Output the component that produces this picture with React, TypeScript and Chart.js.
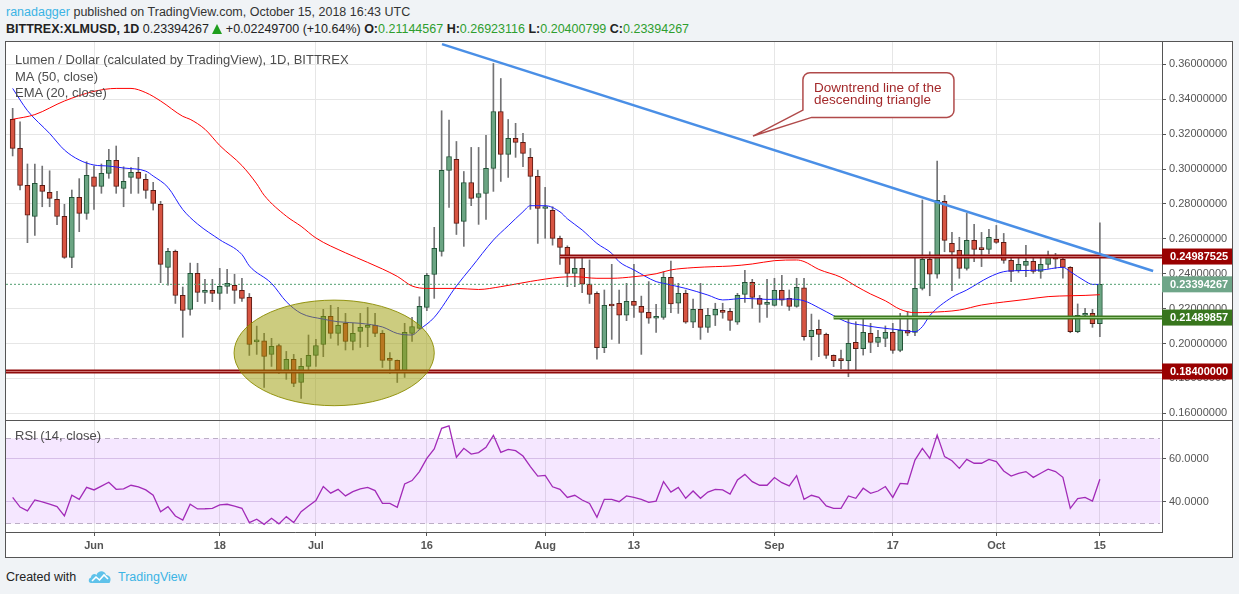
import { useEffect, useRef } from "react"
import { Chart, registerables } from "chart.js"

Chart.register(...registerables)
Chart.defaults.font.family = '"Liberation Sans", Arial, sans-serif'

// one candle per day, index 0 = 2018-05-21, last = 2018-10-15
const opens = [
  0.3285, 0.3118, 0.2906, 0.2729, 0.2906, 0.2866, 0.2826, 0.2729, 0.2494, 0.2838,
  0.2746, 0.2956, 0.2901, 0.2975, 0.3050, 0.2889, 0.2952, 0.2981, 0.2941, 0.2878,
  0.2798, 0.2437, 0.2528, 0.2276, 0.2196, 0.2402, 0.2293, 0.2305, 0.2288, 0.2328,
  0.2333, 0.2305, 0.2265, 0.2010, 0.2016, 0.1938, 0.1989, 0.1835, 0.1909, 0.1777,
  0.1869, 0.1932, 0.1995, 0.2156, 0.2058, 0.2116, 0.2012, 0.2070, 0.2093, 0.2104,
  0.2058, 0.1909, 0.1904, 0.1840, 0.2058, 0.2087, 0.2207, 0.2396, 0.2528, 0.2992,
  0.3055, 0.2700, 0.2923, 0.2837, 0.2860, 0.3004, 0.3330, 0.3084, 0.3176, 0.3153,
  0.3067, 0.2958, 0.2774, 0.2763, 0.2603, 0.2551, 0.2402, 0.2431, 0.2341, 0.2288,
  0.1977, 0.2219, 0.2231, 0.2162, 0.2242, 0.2213, 0.2179, 0.2145, 0.2150, 0.2380,
  0.2231, 0.2288, 0.2122, 0.2196, 0.2093, 0.2162, 0.2190, 0.2185, 0.2122, 0.2282,
  0.2351, 0.2259, 0.2225, 0.2219, 0.2305, 0.2259, 0.2213, 0.2320, 0.2039, 0.2081,
  0.2053, 0.1932, 0.1906, 0.1902, 0.2007, 0.1971, 0.2059, 0.2007, 0.2030, 0.2064,
  0.1961, 0.2076, 0.2064, 0.2316, 0.2483, 0.2397, 0.2815, 0.2574, 0.2534, 0.2431,
  0.2591, 0.2542, 0.2540, 0.2597, 0.2580, 0.2477, 0.2418, 0.2448, 0.2471, 0.2414,
  0.2454, 0.2500, 0.2483, 0.2437, 0.2068, 0.2162, 0.2173, 0.21144567,
]
const highs = [
  0.3348, 0.3271, 0.3029, 0.3029, 0.3017, 0.2990, 0.2872, 0.2798, 0.2880, 0.2945,
  0.3042, 0.3017, 0.3029, 0.3113, 0.3132, 0.3013, 0.3008, 0.3067, 0.2971, 0.2924,
  0.2815, 0.2545, 0.2536, 0.2324, 0.2461, 0.2460, 0.2368, 0.2368, 0.2431, 0.2425,
  0.2397, 0.2374, 0.2287, 0.2100, 0.2058, 0.2030, 0.1997, 0.1955, 0.1938, 0.1915,
  0.2049, 0.2024, 0.2196, 0.2219, 0.2207, 0.2173, 0.2116, 0.2173, 0.2207, 0.2173,
  0.2075, 0.1949, 0.1906, 0.2116, 0.2150, 0.2268, 0.2402, 0.2666, 0.3334, 0.3281,
  0.3158, 0.2986, 0.3124, 0.3124, 0.3193, 0.3605, 0.3519, 0.3284, 0.3262, 0.3204,
  0.3118, 0.2994, 0.2895, 0.2784, 0.2616, 0.2560, 0.2488, 0.2488, 0.2479, 0.2297,
  0.2307, 0.2454, 0.2307, 0.2345, 0.2454, 0.2272, 0.2355, 0.2225, 0.2412, 0.2473,
  0.2345, 0.2307, 0.2255, 0.2345, 0.2202, 0.2231, 0.2231, 0.2202, 0.2288, 0.2420,
  0.2368, 0.2276, 0.2368, 0.2374, 0.2391, 0.2307, 0.2374, 0.2374, 0.2169, 0.2135,
  0.2060, 0.1935, 0.1963, 0.2144, 0.2125, 0.2139, 0.2116, 0.2076, 0.2101, 0.2116,
  0.2173, 0.2183, 0.2494, 0.2823, 0.2526, 0.3046, 0.2849, 0.2637, 0.2609, 0.2746,
  0.2683, 0.2637, 0.2654, 0.2677, 0.2631, 0.2505, 0.2505, 0.2563, 0.2505, 0.2505,
  0.2530, 0.2517, 0.2490, 0.2441, 0.2227, 0.2202, 0.2196, 0.26923116,
]
const lows = [
  0.3075, 0.2880, 0.2578, 0.2620, 0.2784, 0.2784, 0.2681, 0.2488, 0.2435, 0.2641,
  0.2712, 0.2769, 0.2861, 0.2947, 0.2861, 0.2784, 0.2861, 0.2861, 0.2832, 0.2765,
  0.2349, 0.2335, 0.2230, 0.2036, 0.2162, 0.2240, 0.2230, 0.2240, 0.2196, 0.2288,
  0.2230, 0.2242, 0.1932, 0.1938, 0.1749, 0.1869, 0.1829, 0.1795, 0.1753, 0.1686,
  0.1840, 0.1869, 0.1925, 0.2030, 0.1991, 0.1963, 0.1963, 0.1978, 0.1982, 0.2039,
  0.1863, 0.1829, 0.1777, 0.1806, 0.2012, 0.2081, 0.2188, 0.2259, 0.2501, 0.2780,
  0.2625, 0.2557, 0.2790, 0.2683, 0.2711, 0.2872, 0.2929, 0.2952, 0.3067, 0.3013,
  0.2769, 0.2574, 0.2603, 0.2564, 0.2454, 0.2326, 0.2326, 0.2292, 0.2230, 0.1910,
  0.1948, 0.2024, 0.2001, 0.2131, 0.2150, 0.1938, 0.2116, 0.2064, 0.2139, 0.2177,
  0.2173, 0.2116, 0.2091, 0.2024, 0.2064, 0.2103, 0.2145, 0.2076, 0.2110, 0.2236,
  0.2202, 0.2122, 0.2150, 0.2215, 0.2219, 0.2190, 0.2208, 0.2020, 0.1906, 0.1925,
  0.1915, 0.1868, 0.1854, 0.1810, 0.1848, 0.1934, 0.1948, 0.1982, 0.1982, 0.1944,
  0.1953, 0.2045, 0.2045, 0.2307, 0.2274, 0.2374, 0.2526, 0.2303, 0.2374, 0.2421,
  0.2469, 0.2441, 0.2513, 0.2574, 0.2460, 0.2355, 0.2408, 0.2383, 0.2402, 0.2374,
  0.2431, 0.2431, 0.2374, 0.2062, 0.2062, 0.2144, 0.2093, 0.20400799,
]
const closes = [
  0.3118, 0.2906, 0.2735, 0.2918, 0.2872, 0.2832, 0.2729, 0.2494, 0.2838, 0.2746,
  0.2964, 0.2901, 0.2975, 0.3050, 0.2901, 0.2929, 0.2981, 0.2947, 0.2878, 0.2803,
  0.2454, 0.2528, 0.2276, 0.2190, 0.2402, 0.2293, 0.2305, 0.2288, 0.2328, 0.2345,
  0.2305, 0.2259, 0.1995, 0.2016, 0.1926, 0.1984, 0.1835, 0.1909, 0.1772, 0.1869,
  0.1932, 0.1989, 0.2156, 0.2058, 0.2104, 0.2012, 0.2058, 0.2093, 0.2104, 0.2058,
  0.1904, 0.1904, 0.1846, 0.2064, 0.2098, 0.2213, 0.2391, 0.2545, 0.2992, 0.3072,
  0.2689, 0.2923, 0.2832, 0.2860, 0.3004, 0.3330, 0.3084, 0.3176, 0.3153, 0.3090,
  0.2958, 0.2774, 0.2780, 0.2603, 0.2551, 0.2402, 0.2431, 0.2341, 0.2282, 0.1977,
  0.2219, 0.2215, 0.2162, 0.2242, 0.2219, 0.2179, 0.2145, 0.2150, 0.2380, 0.2227,
  0.2288, 0.2122, 0.2196, 0.2093, 0.2162, 0.2196, 0.2179, 0.2133, 0.2276, 0.2351,
  0.2265, 0.2225, 0.2231, 0.2305, 0.2248, 0.2213, 0.2322, 0.2039, 0.2076, 0.2053,
  0.1932, 0.1902, 0.1902, 0.2001, 0.1971, 0.2064, 0.2007, 0.2036, 0.2064, 0.1961,
  0.2076, 0.2059, 0.2316, 0.2483, 0.2397, 0.2821, 0.2591, 0.2523, 0.2431, 0.2591,
  0.2540, 0.2538, 0.2609, 0.2580, 0.2477, 0.2414, 0.2454, 0.2471, 0.2414, 0.2454,
  0.2500, 0.2483, 0.2437, 0.2068, 0.2162, 0.2167, 0.2114, 0.23394267,
]

// MA (50) and EMA (20) at these day indices
const maDays = [0, 3, 7, 11, 14, 16, 18, 20, 23, 24, 26, 28, 31, 33, 34, 37, 39, 41, 45, 48, 52, 54, 56, 60, 63, 66, 70, 74, 76, 79, 81, 84, 87, 89, 92, 95, 97, 100, 103, 106, 107, 109, 112, 114, 116, 118, 120, 122, 124, 128, 131, 134, 137, 140, 143, 145, 147]
const maValues = [0.3285, 0.3312, 0.3390, 0.3445, 0.3462, 0.3462, 0.3438, 0.3390, 0.3302, 0.3285, 0.3228, 0.3135, 0.3020, 0.2915, 0.2850, 0.2730, 0.2672, 0.2605, 0.2520, 0.2465, 0.2385, 0.2330, 0.2316, 0.2316, 0.2310, 0.2326, 0.2356, 0.2380, 0.2383, 0.2374, 0.2374, 0.2383, 0.2400, 0.2422, 0.2435, 0.2441, 0.2444, 0.2456, 0.2475, 0.2479, 0.2470, 0.2425, 0.2380, 0.2330, 0.2284, 0.2245, 0.2196, 0.2177, 0.2179, 0.2192, 0.2221, 0.2238, 0.2253, 0.2269, 0.2274, 0.2276, 0.2280]
const emaDays = [0, 2, 5, 7, 9, 11, 13, 15, 18, 19, 21, 23, 25, 28, 31, 32, 35, 37, 39, 42, 44, 47, 50, 52, 54, 55, 57, 60, 62, 65, 67, 69, 70, 72, 74, 75, 77, 79, 81, 82, 84, 87, 88, 91, 94, 96, 99, 102, 105, 107, 109, 111, 113, 115, 117, 120, 122, 123, 124, 127, 129, 132, 134, 136, 139, 142, 143, 145, 146, 147]
const emaValues = [0.3462, 0.3335, 0.3204, 0.3109, 0.3052, 0.3023, 0.3017, 0.3006, 0.2988, 0.2960, 0.2895, 0.2768, 0.2685, 0.2595, 0.2510, 0.2445, 0.2345, 0.2240, 0.2173, 0.2140, 0.2125, 0.2116, 0.2095, 0.2058, 0.2049, 0.2080, 0.2150, 0.2330, 0.2435, 0.2593, 0.2675, 0.2755, 0.2790, 0.2790, 0.2755, 0.2715, 0.2651, 0.2574, 0.2517, 0.2469, 0.2422, 0.2355, 0.2345, 0.2316, 0.2278, 0.2250, 0.2259, 0.2253, 0.2255, 0.2245, 0.2205, 0.2160, 0.2120, 0.2105, 0.2092, 0.2078, 0.2068, 0.2097, 0.2160, 0.2265, 0.2307, 0.2380, 0.2412, 0.2418, 0.2421, 0.2437, 0.2412, 0.2358, 0.2339, 0.2339]

// RSI (14) per candle
const rsiValues = [
  42.0, 37.5, 35.7, 40.8, 39.9, 38.9, 37.7, 33.3, 43.0, 41.1,
  46.7, 45.5, 47.3, 49.1, 45.8, 46.0, 47.7, 46.9, 45.5, 43.0,
  35.3, 37.7, 33.3, 31.4, 38.8, 36.6, 36.7, 36.9, 38.5, 38.8,
  37.9, 36.9, 30.2, 31.8, 29.4, 32.2, 29.6, 33.0, 30.2, 35.3,
  38.0, 40.5, 47.1, 44.0, 45.8, 42.7, 44.7, 46.0, 46.7, 45.2,
  39.2, 39.2, 37.4, 48.3, 49.9, 54.1, 60.3, 64.7, 74.4, 75.5,
  60.8, 65.0, 62.3, 63.0, 65.5, 71.1, 63.1, 64.5, 63.9, 61.4,
  56.4, 52.0, 52.3, 47.0, 45.8, 42.0, 43.0, 40.8, 39.2, 32.7,
  41.1, 41.1, 40.0, 42.7, 42.0, 41.1, 39.7, 40.3, 49.4, 44.5,
  46.7, 41.6, 45.0, 41.6, 44.5, 45.8, 45.5, 43.6, 50.2, 52.8,
  49.4, 47.7, 47.7, 51.3, 48.9, 47.4, 52.2, 41.1, 43.0, 42.0,
  38.0, 36.9, 36.9, 42.7, 41.6, 46.3, 43.9, 45.0, 47.1, 42.0,
  48.6, 48.3, 59.5, 65.0, 60.3, 71.2, 61.1, 59.2, 55.6, 59.8,
  58.0, 58.0, 59.8, 58.8, 54.4, 52.0, 53.3, 54.1, 51.4, 53.3,
  55.2, 54.1, 51.4, 36.9, 41.4, 42.0, 40.3, 50.5,
]

const tickDays = [11, 28, 41, 56, 72, 84, 103, 119, 133, 147]
const tickLabels = ["Jun", "18", "Jul", "16", "Aug", "13", "Sep", "17", "Oct", "15"]
const priceTicks = [0.16, 0.18, 0.2, 0.22, 0.24, 0.26, 0.28, 0.3, 0.32, 0.34, 0.36]
const rsiTicks = [40, 60]
const RSI_UPPER = 70
const RSI_LOWER = 30

// drawn levels and trend line
const resistance = 0.24987525
const support = 0.21489857
const floor = 0.184
const lastPrice = 0.23394267
const trendDays = [58.05, 154.2]
const trendValues = [0.3716, 0.2416]

const X_MIN = -0.9
const X_MAX = 155.4
const UI_FONT = '"Liberation Sans", Arial, sans-serif'

const UP = "#6ba583"
const UP_BORDER = "#225437"
const DOWN = "#d75442"
const DOWN_BORDER = "#5b1a13"

function dayAxis(showLabels: boolean) {
  return {
    type: "linear",
    min: X_MIN,
    max: X_MAX,
    offset: false,
    afterBuildTicks: (axis: any) => {
      axis.ticks = tickDays.map((v) => ({ value: v }))
    },
    afterFit: (axis: any) => {
      axis.height = showLabels ? 25 : 0
      axis.paddingLeft = 0
      axis.paddingRight = 0
    },
    grid: { color: "#e6e6e6", offset: false, drawTicks: showLabels, tickLength: 4, tickColor: "#555" },
    border: { display: showLabels, color: "#555" },
    ticks: {
      display: showLabels,
      autoSkip: false,
      maxRotation: 0,
      padding: 3,
      color: "#555",
      font: { size: 11, weight: "bold" },
      callback: (v: number) => tickLabels[tickDays.indexOf(v)] ?? "",
    },
  }
}

function valueAxis(min: number, max: number, ticks: number[], digits: number, gridColor: string) {
  return {
    position: "right",
    min,
    max,
    afterBuildTicks: (axis: any) => {
      axis.ticks = ticks.map((v) => ({ value: v }))
    },
    afterFit: (axis: any) => {
      axis.width = 70
      axis.paddingTop = 0
      axis.paddingBottom = 0
    },
    grid: { color: gridColor, tickColor: "#555", tickLength: 4 },
    border: { color: "#555" },
    ticks: {
      padding: 3,
      color: "#555",
      font: { size: 11 },
      callback: (v: number) => Number(v).toFixed(digits),
    },
  }
}

function hline(value: number, from: number, color: string, width: number, order: number, dash: number[] = []) {
  return {
    type: "line",
    data: [
      { x: from, y: value },
      { x: X_MAX, y: value },
    ],
    borderColor: color,
    borderWidth: width,
    borderDash: dash,
    pointRadius: 0,
    order,
  }
}

const priceOverlay = {
  id: "priceOverlay",
  afterDatasetsDraw(chart: any) {
    const { ctx } = chart
    const { x, y } = chart.scales
    // highlighted base
    const cx = x.getPixelForValue(43.47)
    const cy = y.getPixelForValue(0.19465)
    const rx = (x.getPixelForValue(57.0) - x.getPixelForValue(29.93)) / 2
    const ry = (y.getPixelForValue(0.1644) - y.getPixelForValue(0.2249)) / 2
    ctx.save()
    ctx.beginPath()
    ctx.ellipse(cx, cy, rx, ry, 0, 0, Math.PI * 2)
    ctx.fillStyle = "rgba(153, 153, 0, 0.5)"
    ctx.fill()
    ctx.strokeStyle = "rgba(140, 140, 0, 0.9)"
    ctx.lineWidth = 1
    ctx.stroke()
    ctx.restore()
  },
  afterDraw(chart: any) {
    const { ctx, chartArea } = chart
    const { x, y } = chart.scales

    // callout
    const left = x.getPixelForValue(106.85)
    const right = x.getPixelForValue(127.27)
    const top = y.getPixelForValue(0.3552)
    const bottom = y.getPixelForValue(0.3296)
    const r = 7
    const tailA = y.getPixelForValue(0.3338)
    const tailB = x.getPixelForValue(108.03)
    const tipX = x.getPixelForValue(100.1)
    const tipY = y.getPixelForValue(0.3189)
    ctx.save()
    ctx.beginPath()
    ctx.moveTo(left, tailA)
    ctx.lineTo(left, top + r)
    ctx.arcTo(left, top, left + r, top, r)
    ctx.lineTo(right - r, top)
    ctx.arcTo(right, top, right, top + r, r)
    ctx.lineTo(right, bottom - r)
    ctx.arcTo(right, bottom, right - r, bottom, r)
    ctx.lineTo(tailB, bottom)
    ctx.lineTo(tipX, tipY)
    ctx.closePath()
    ctx.fillStyle = "#ffffff"
    ctx.fill()
    ctx.strokeStyle = "#b04a4a"
    ctx.lineWidth = 1.5
    ctx.stroke()
    ctx.fillStyle = "#a3292b"
    ctx.font = `13.5px ${UI_FONT}`
    ctx.textBaseline = "middle"
    ctx.fillText("Downtrend line of the", left + 11, top + 15.5)
    ctx.fillText("descending triangle", left + 11, top + 28)
    ctx.restore()

    // value boxes on the price axis
    const boxes = [
      { v: resistance, c: "#990000" },
      { v: lastPrice, c: "#6fa689" },
      { v: support, c: "#38761d" },
      { v: floor, c: "#990000" },
    ]
    ctx.save()
    ctx.font = `bold 11px ${UI_FONT}`
    ctx.textBaseline = "middle"
    for (const b of boxes) {
      const py = y.getPixelForValue(b.v)
      ctx.fillStyle = b.c
      ctx.fillRect(chartArea.right, py - 8, chart.width - chartArea.right, 16)
      ctx.fillStyle = "#ffffff"
      ctx.fillText(b.v.toFixed(8), chartArea.right + 8, py + 0.5)
    }
    ctx.restore()
  },
}

const rsiBand = {
  id: "rsiBand",
  beforeDatasetsDraw(chart: any) {
    const { ctx, chartArea } = chart
    const { y } = chart.scales
    const top = Math.round(y.getPixelForValue(RSI_UPPER)) + 0.5
    const bot = Math.round(y.getPixelForValue(RSI_LOWER)) + 0.5
    ctx.save()
    ctx.fillStyle = "rgba(153, 21, 255, 0.1)"
    ctx.fillRect(chartArea.left, top, chartArea.right - chartArea.left - 2, bot - top)
    ctx.strokeStyle = "#bcaec6"
    ctx.lineWidth = 1
    ctx.setLineDash([5, 4])
    for (const py of [top, bot]) {
      ctx.beginPath()
      ctx.moveTo(chartArea.left, py)
      ctx.lineTo(chartArea.right - 2, py)
      ctx.stroke()
    }
    ctx.restore()
  },
}

const baseOptions = {
  animation: false,
  responsive: true,
  maintainAspectRatio: false,
  events: [],
  layout: { padding: 0, autoPadding: false },
  plugins: { legend: { display: false }, tooltip: { enabled: false } },
}

function PriceChart() {
  const ref = useRef<HTMLCanvasElement>(null)
  useEffect(() => {
    if (!ref.current) return
    const up = closes.map((c, i) => c >= opens[i])
    const chart = new Chart(ref.current, {
      type: "bar",
      data: {
        datasets: [
          {
            type: "bar",
            data: opens.map((_, i) => ({ x: i, y: [lows[i], highs[i]] })),
            backgroundColor: "#737375",
            barThickness: 1,
            grouped: false,
            order: 10,
          },
          {
            type: "bar",
            data: opens.map((o, i) => ({ x: i, y: [o, closes[i]] })),
            backgroundColor: up.map((u) => (u ? UP : DOWN)),
            borderColor: up.map((u) => (u ? UP_BORDER : DOWN_BORDER)),
            borderWidth: 1,
            borderSkipped: false,
            barThickness: 5,
            minBarLength: 2,
            grouped: false,
            order: 9,
          },
          {
            type: "line",
            data: maDays.map((d, i) => ({ x: d, y: maValues[i] })),
            borderColor: "#ff0000",
            borderWidth: 1,
            pointRadius: 0,
            cubicInterpolationMode: "monotone",
            order: 8,
          },
          {
            type: "line",
            data: emaDays.map((d, i) => ({ x: d, y: emaValues[i] })),
            borderColor: "#1f1fff",
            borderWidth: 1,
            pointRadius: 0,
            cubicInterpolationMode: "monotone",
            order: 8,
          },
          hline(lastPrice, X_MIN, "#4f9d6f", 1, 7, [2, 2]),
          hline(resistance, 74, "#8f0b0b", 4, 6),
          hline(resistance, 74, "#cf7474", 1, 5),
          hline(floor, X_MIN, "#8f0b0b", 4, 6),
          hline(floor, X_MIN, "#cf7474", 1, 5),
          hline(support, 111, "#3d7a1f", 4, 6),
          hline(support, 111, "#9ccc84", 1, 5),
          {
            type: "line",
            data: trendDays.map((d, i) => ({ x: d, y: trendValues[i] })),
            borderColor: "#4a8fe6",
            borderWidth: 2.5,
            pointRadius: 0,
            order: 4,
          },
        ],
      },
      options: {
        ...baseOptions,
        scales: {
          x: dayAxis(false),
          y: valueAxis(0.1562, 0.3728, priceTicks, 8, "#e6e6e6"),
        },
      } as any,
      plugins: [priceOverlay],
    } as any)
    return () => chart.destroy()
  }, [])
  return <canvas ref={ref} />
}

function RsiChart() {
  const ref = useRef<HTMLCanvasElement>(null)
  useEffect(() => {
    if (!ref.current) return
    const chart = new Chart(ref.current, {
      type: "line",
      data: {
        datasets: [
          {
            data: rsiValues.map((v, i) => ({ x: i, y: v })),
            borderColor: "#a22bb8",
            borderWidth: 1.3,
            pointRadius: 0,
          },
        ],
      },
      options: {
        ...baseOptions,
        scales: {
          x: dayAxis(true),
          y: valueAxis(25.8, 77.8, rsiTicks, 4, "#ddd2e6"),
        },
      } as any,
      plugins: [rsiBand],
    } as any)
    return () => chart.destroy()
  }, [])
  return <canvas ref={ref} />
}

const green = { color: "#2e9e2e" }

export default function App() {
  return (
    <div
      style={{
        position: "fixed",
        left: 0,
        top: 0,
        width: 1239,
        height: 594,
        background: "#f0f3f6",
        fontFamily: UI_FONT,
        color: "#333",
        overflow: "hidden",
      }}
    >
      <div style={{ position: "absolute", left: 6, top: 4, fontSize: 12.5, lineHeight: "16px", whiteSpace: "nowrap" }}>
        <span style={{ color: "#3bb4e5" }}>ranadagger</span> published on TradingView.com, October 15, 2018 16:43 UTC
      </div>
      <div style={{ position: "absolute", left: 6, top: 21, fontSize: 12.5, lineHeight: "16px", whiteSpace: "nowrap", color: "#222" }}>
        <b>BITTREX:XLMUSD, 1D</b> 0.23394267{" "}
        <span
          style={{
            display: "inline-block",
            width: 0,
            height: 0,
            borderLeft: "5px solid transparent",
            borderRight: "5px solid transparent",
            borderBottom: "10px solid #1e9e1e",
            verticalAlign: "-1px",
          }}
        />{" "}
        +0.02249700 (+10.64%) <b>O:</b>
        <span style={green}>0.21144567</span> <b>H:</b>
        <span style={green}>0.26923116</span> <b>L:</b>
        <span style={green}>0.20400799</span> <b>C:</b>
        <span style={green}>0.23394267</span>
      </div>

      <div
        style={{
          position: "absolute",
          left: 5,
          top: 41,
          width: 1228,
          height: 517,
          border: "1px solid #555",
          boxSizing: "border-box",
          background: "#ffffff",
        }}
      >
        <div style={{ position: "absolute", left: 0, top: 0, width: 1226, height: 378 }}>
          <PriceChart />
        </div>
        <div style={{ position: "absolute", left: 0, top: 378, width: 1226, height: 1, background: "#555" }} />
        <div style={{ position: "absolute", left: 0, top: 379, width: 1226, height: 136 }}>
          <RsiChart />
        </div>
        <div
          style={{
            position: "absolute",
            left: 9,
            top: 10,
            fontSize: 13,
            lineHeight: "16.7px",
            color: "#4d4d4d",
            whiteSpace: "nowrap",
            pointerEvents: "none",
          }}
        >
          <div>Lumen / Dollar (calculated by TradingView), 1D, BITTREX</div>
          <div>MA (50, close)</div>
          <div>EMA (20, close)</div>
        </div>
        <div
          style={{
            position: "absolute",
            left: 9,
            top: 386,
            fontSize: 13,
            lineHeight: "16px",
            color: "#4d4d4d",
            whiteSpace: "nowrap",
          }}
        >
          RSI (14, close)
        </div>
      </div>

      <div style={{ position: "absolute", left: 6, top: 569, fontSize: 12.5, lineHeight: "16px", color: "#222" }}>
        Created with
      </div>
      <svg style={{ position: "absolute", left: 88, top: 568 }} width="24" height="16" viewBox="0 0 24 16">
        <path d="M3 15 C0 15 0 10 3 9.5 C3 6 7 5 8.5 7 C10 2 17 2 18 7 C22 7 24 11 21.5 15 Z" fill="#5fc2ea" />
        <path d="M4 13 L8 9 L11.5 12 L16 7 L20 11" stroke="#ffffff" strokeWidth="1.6" fill="none" />
      </svg>
      <div style={{ position: "absolute", left: 118, top: 569, fontSize: 12.5, lineHeight: "16px", color: "#3bb4e5" }}>
        TradingView
      </div>
    </div>
  )
}
